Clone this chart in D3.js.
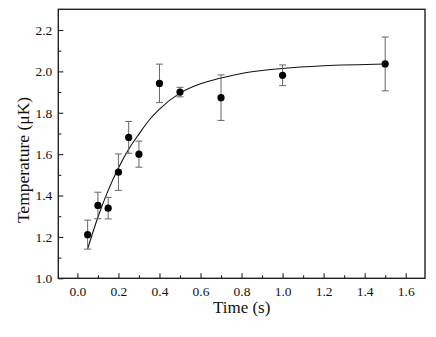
<!DOCTYPE html>
<html>
<head>
<meta charset="utf-8">
<script src="https://cdn.jsdelivr.net/npm/d3@7"></script>
<style>
  body { margin: 0; background: #fff; }
  svg text { font-family: "Liberation Serif", "DejaVu Serif", serif; fill: #111; }
</style>
</head>
<body>
<div id="chart"></div>
<script>
// measured points
const times = [0.05, 0.10, 0.15, 0.20, 0.25, 0.30, 0.40, 0.50, 0.70, 1.00, 1.50];
const temps = [1.211, 1.352, 1.339, 1.513, 1.681, 1.600, 1.942, 1.900, 1.873, 1.981, 2.036];
const errs  = [0.070, 0.064, 0.052, 0.088, 0.077, 0.063, 0.093, 0.023, 0.110, 0.050, 0.130];

// fitted curve
const fitTimes = [0.05, 0.10, 0.15, 0.20, 0.25, 0.30, 0.35, 0.40, 0.50, 0.60, 0.70, 0.80, 0.90, 1.00, 1.20, 1.50];
const fitTemps = [1.142, 1.295, 1.425, 1.533, 1.624, 1.697, 1.765, 1.818, 1.895, 1.940, 1.968, 1.990, 2.004, 2.014, 2.027, 2.036];

const xMajor = [0.0, 0.2, 0.4, 0.6, 0.8, 1.0, 1.2, 1.4, 1.6];
const xMinor = [0.1, 0.3, 0.5, 0.7, 0.9, 1.1, 1.3, 1.5];
const yMajor = [1.0, 1.2, 1.4, 1.6, 1.8, 2.0, 2.2];
const yMinor = [1.1, 1.3, 1.5, 1.7, 1.9, 2.1];

const W = 436, H = 337;
const margin = {top: 9.3, right: 11, bottom: 58.7, left: 58.3};
const width = W - margin.left - margin.right,
      height = H - margin.top - margin.bottom;

const svg = d3.select("#chart").append("svg")
    .attr("width", W)
    .attr("height", H);

const g = svg.append("g")
    .attr("transform", "translate(" + margin.left + "," + margin.top + ")");

const x = d3.scaleLinear().domain([-0.093, 1.694]).range([0, width]);
const y = d3.scaleLinear().domain([1.0, 2.3]).range([height, 0]);

// minor ticks first, no labels
g.append("g")
    .attr("transform", "translate(0," + height + ")")
    .call(d3.axisBottom(x).tickValues(xMinor).tickSize(-3).tickFormat(""))
    .call(a => a.select(".domain").remove());
g.append("g")
    .call(d3.axisLeft(y).tickValues(yMinor).tickSize(-3).tickFormat(""))
    .call(a => a.select(".domain").remove());

// major ticks with labels
let xAxisEl = g.append("g")
    .attr("transform", "translate(0," + height + ")")
    .call(d3.axisBottom(x).tickValues(xMajor).tickSize(-5).tickPadding(8).tickFormat(d3.format(".1f")));
xAxisEl.select(".domain").remove();

let yAxisEl = g.append("g")
    .call(d3.axisLeft(y).tickValues(yMajor).tickSize(-5).tickPadding(6).tickFormat(d3.format(".1f")));
yAxisEl.select(".domain").remove();

// d3 puts sans-serif / 10 on the axis groups, override it
[xAxisEl, yAxisEl].forEach(a => a.attr("font-family", "Liberation Serif").attr("font-size", 13));

g.selectAll(".tick line").attr("stroke", "#222").attr("stroke-width", 1.1);
g.selectAll(".tick text")
    .attr("font-family", "Liberation Serif")
    .attr("font-size", 13.5)
    .attr("fill", "#1a1a1a");

// frame
g.append("rect")
    .attr("width", width)
    .attr("height", height)
    .attr("fill", "none")
    .attr("stroke", "#222")
    .attr("stroke-width", 1.4);

// fit line
const fitData = fitTimes.map((t, i) => ({t: t, v: fitTemps[i]}));
const line = d3.line()
    .x(d => x(d.t))
    .y(d => y(d.v))
    .curve(d3.curveMonotoneX);
g.append("path")
    .datum(fitData)
    .attr("d", line)
    .attr("fill", "none")
    .attr("stroke", "#111")
    .attr("stroke-width", 1.1);

const pts = times.map((t, i) => ({t: t, v: temps[i], e: errs[i]}));

// error bars
const eb = g.selectAll(".err").data(pts).enter().append("g").attr("class", "err")
    .attr("stroke", "#666").attr("stroke-width", 1);
eb.append("line")
    .attr("x1", d => x(d.t)).attr("x2", d => x(d.t))
    .attr("y1", d => y(d.v - d.e)).attr("y2", d => y(d.v + d.e));
eb.append("line")
    .attr("x1", d => x(d.t) - 3.5).attr("x2", d => x(d.t) + 3.5)
    .attr("y1", d => y(d.v + d.e)).attr("y2", d => y(d.v + d.e));
eb.append("line")
    .attr("x1", d => x(d.t) - 3.5).attr("x2", d => x(d.t) + 3.5)
    .attr("y1", d => y(d.v - d.e)).attr("y2", d => y(d.v - d.e));

// dots
g.selectAll(".dot").data(pts).enter().append("circle")
    .attr("class", "dot")
    .attr("cx", d => x(d.t))
    .attr("cy", d => y(d.v))
    .attr("r", 3.6)
    .attr("fill", "#000");

// axis titles
svg.append("text")
    .attr("x", margin.left + width / 2)
    .attr("y", 313)
    .attr("text-anchor", "middle")
    .attr("font-size", 17)
    .text("Time (s)");

svg.append("text")
    .attr("transform", "translate(29,160) rotate(-90)")
    .attr("text-anchor", "middle")
    .attr("font-size", 17.5)
    .text("Temperature (μK)");
</script>
</body>
</html>
